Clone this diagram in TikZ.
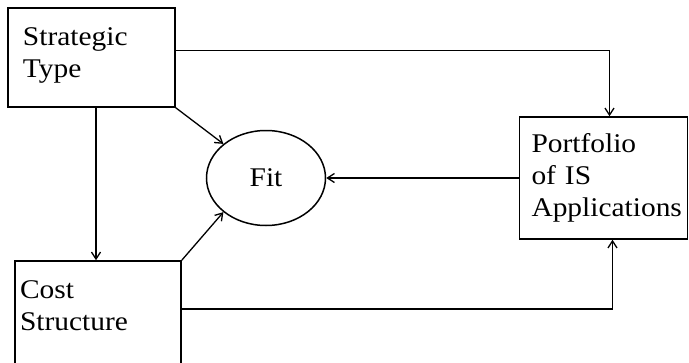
\documentclass[tikz,border=0pt]{standalone}
\usepackage{fontspec}
\setmainfont[FakeStretch=1.09]{Liberation Serif}
\usetikzlibrary{shapes.geometric, arrows.meta}

\begin{document}
\begin{tikzpicture}[x=1pt, y=-1pt, font=\fontsize{27}{32}\selectfont,
    box/.style={draw, line width=1.5pt, rectangle, align=left, inner ysep=0pt},
    link/.style={line width=1.3pt, -{Straight Barb[length=7pt, width=9pt]}}]
    \useasboundingbox (0,0) rectangle (689,362);

    % Boxes
    \node[box, inner xsep=15pt, text width=137pt, minimum height=99pt] (strat) at (91.5,57.5) {Strategic\\Type\\[-22pt]\mbox{}};
    \node[box, inner xsep=5pt, text width=156pt, minimum height=140pt] (cost) at (98,331) {Cost\\Structure\\[18pt]\mbox{}};
    \node[box, inner xsep=12pt, text width=144pt, minimum height=122pt] (port) at (603.5,178) {Portfolio\\of IS\\Applications};
    \node[draw, ellipse, line width=1.5pt, minimum width=119pt, minimum height=95pt, inner sep=0pt] (fit) at (266,178) {Fit};

    % Links
    \draw[link] ([yshift=7pt]strat.east) -| ([xshift=6pt]port.north);
    \draw[link] (strat.south -| 96,0) -- (cost.north -| 96,0);
    \draw[link] (strat.south east) -- (fit.north west);
    \draw[link] (cost.north east) -- (fit.south west);
    \draw[link] (port.west) -- (fit.east);
    \draw[link] ([yshift=22pt]cost.east) -| ([xshift=9pt]port.south);
\end{tikzpicture}
\end{document}
